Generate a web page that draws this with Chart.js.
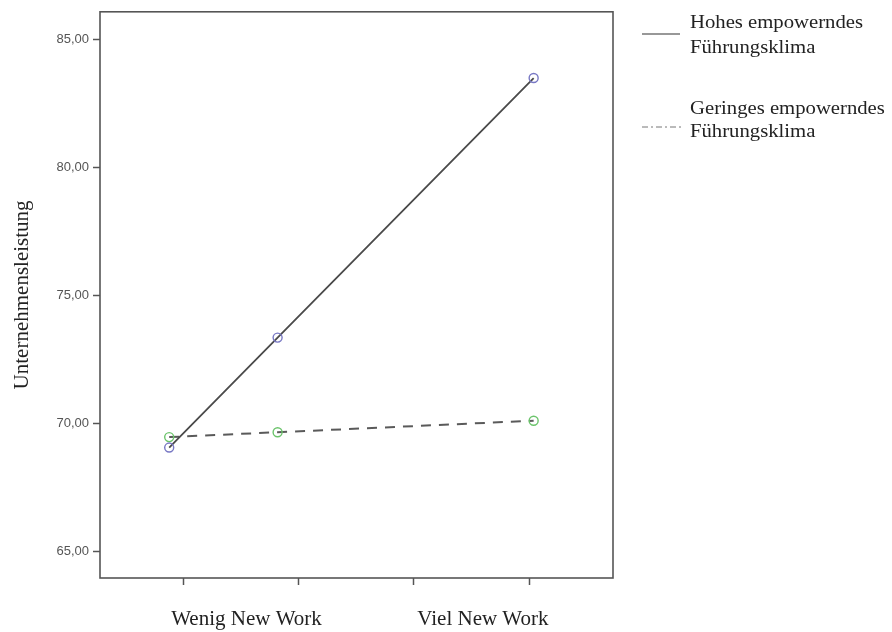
<!DOCTYPE html>
<html lang="de">
<head>
  <meta charset="UTF-8">
  <title>Unternehmensleistung - New Work</title>
  <script src="https://cdn.jsdelivr.net/npm/chart.js"></script>
  <style>
    body {
      margin: 0;
      background: #fff;
    }
    #wrap {
      width: 892px;
      height: 632px;
    }
  </style>
</head>
<body>
  <div id="wrap">
    <canvas id="grafico" width="892" height="632"></canvas>
  </div>

  <script>
    // Daten
    const xTicks = [1, 2, 3, 4];
    const xLabelPos = [1.55, 3.6];
    const xLabels = ['Wenig New Work', 'Viel New Work'];
    const yTicks = [65, 70, 75, 80, 85];

    const punkteX = [0.88, 1.82, 4.04];
    const hohesY = [69.05, 73.35, 83.5];
    const geringesY = [69.46, 69.65, 70.1];

    const legendeTexte = [
      ['Hohes empowerndes', 'Führungsklima'],
      ['Geringes empowerndes', 'Führungsklima']
    ];

    const achsenFarbe = '#555';
    const serif = '"Liberation Serif", "Times New Roman", serif';

    function punkte(ys) {
      return punkteX.map((x, i) => ({ x: x, y: ys[i] }));
    }

    // Rahmen um die Plotfläche + eigene Legende rechts
    const rahmenUndLegende = {
      id: 'rahmenUndLegende',
      afterDraw(chart) {
        const ctx = chart.ctx;
        const a = chart.chartArea;
        ctx.save();
        ctx.strokeStyle = achsenFarbe;
        ctx.lineWidth = 1.6;
        ctx.strokeRect(a.left, a.top, a.right - a.left, a.bottom - a.top);

        // Legende
        ctx.strokeStyle = '#333';
        ctx.lineWidth = 1.2;
        ctx.beginPath();
        ctx.moveTo(642, 34);
        ctx.lineTo(680, 34);
        ctx.stroke();

        ctx.strokeStyle = '#777';
        ctx.lineWidth = 1;
        ctx.setLineDash([6, 3, 2, 3]);
        ctx.beginPath();
        ctx.moveTo(642, 127);
        ctx.lineTo(683, 127);
        ctx.stroke();
        ctx.setLineDash([]);

        ctx.fillStyle = '#222';
        ctx.font = '18px ' + serif;
        ctx.textBaseline = 'alphabetic';
        const basis = [[28, 53], [114, 137]];
        legendeTexte.forEach((zeilen, i) => {
          zeilen.forEach((t, j) => {
            ctx.save();
            ctx.translate(690, basis[i][j]);
            ctx.scale(1.15, 1);
            ctx.fillText(t, 0, 0);
            ctx.restore();
          });
        });
        ctx.restore();
      }
    };

    const ctx = document.getElementById('grafico').getContext('2d');

    new Chart(ctx, {
      type: 'scatter',
      data: {
        datasets: [
          {
            label: 'Hohes empowerndes Führungsklima',
            data: punkte(hohesY),
            showLine: true,
            borderColor: '#4a4a4a',
            borderWidth: 1.8,
            pointRadius: 4.5,
            pointBorderWidth: 1.4,
            pointBorderColor: '#7878c4',
            pointBackgroundColor: 'rgba(255,255,255,0)'
          },
          {
            label: 'Geringes empowerndes Führungsklima',
            data: punkte(geringesY),
            showLine: true,
            borderColor: '#5a5a5a',
            borderWidth: 2,
            borderDash: [10, 8],
            pointRadius: 4.5,
            pointBorderWidth: 1.4,
            pointBorderColor: '#6cc46c',
            pointBackgroundColor: 'rgba(255,255,255,0)'
          }
        ]
      },
      options: {
        responsive: false,
        animation: false,
        layout: {
          padding: { left: 0, top: 10, right: 279, bottom: 0 }
        },
        plugins: {
          legend: { display: false },
          tooltip: { enabled: false }
        },
        scales: {
          x: {
            type: 'linear',
            min: 0.28,
            max: 4.728,
            afterBuildTicks: (scale) => {
              scale.ticks = xTicks.concat(xLabelPos).sort((a, b) => a - b).map(v => ({ value: v }));
            },
            afterFit: (scale) => { scale.height = 54; },
            border: { display: false },
            grid: {
              drawOnChartArea: false,
              tickLength: 7,
              tickWidth: 1.5,
              tickColor: (c) => (c.tick && xTicks.includes(c.tick.value)) ? achsenFarbe : 'rgba(0,0,0,0)'
            },
            ticks: {
              autoSkip: false,
              maxRotation: 0,
              padding: 22,
              color: '#222',
              font: { family: serif, size: 21 },
              callback: (v) => {
                const i = xLabelPos.indexOf(v);
                return i >= 0 ? xLabels[i] : '';
              }
            }
          },
          y: {
            min: 63.95,
            max: 86.09,
            afterBuildTicks: (scale) => {
              scale.ticks = yTicks.map(v => ({ value: v }));
            },
            afterFit: (scale) => { scale.width = 100; },
            border: { display: false },
            grid: {
              drawOnChartArea: false,
              tickLength: 7,
              tickWidth: 1.5,
              tickColor: achsenFarbe
            },
            ticks: {
              padding: 4,
              color: '#555',
              font: { family: '"Liberation Sans", Arial, sans-serif', size: 13 },
              callback: (v) => v.toFixed(2).replace('.', ',')
            },
            title: {
              display: true,
              text: 'Unternehmensleistung',
              color: '#222',
              font: { family: serif, size: 21 },
              padding: { top: 10, bottom: 0 }
            }
          }
        }
      },
      plugins: [rahmenUndLegende]
    });
  </script>
</body>
</html>
